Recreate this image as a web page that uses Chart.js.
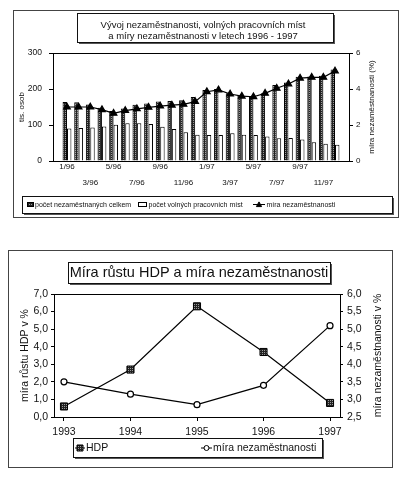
<!DOCTYPE html>
<html>
<head>
<meta charset="utf-8">
<script src="https://cdn.jsdelivr.net/npm/chart.js@4.4.0/dist/chart.umd.min.js"></script>
<style>
  body { margin: 0; background: #fff; width: 399px; height: 478px; overflow: hidden; position: relative; }
  .frame { position: absolute; border: 1px solid #444; box-sizing: border-box; }
  #f1 { left: 13px; top: 10px; width: 386px; height: 208px; }
  #f2 { left: 8px; top: 250px; width: 385px; height: 218px; }
  canvas { display: block; }
</style>
</head>
<body>
<div class="frame" id="f1"><canvas id="c1" width="384" height="206"></canvas></div>
<div class="frame" id="f2"><canvas id="c2" width="383" height="216"></canvas></div>
<script>
// --- data, upper chart (thousands of persons, %)
const months = ['1/96','2/96','3/96','4/96','5/96','6/96','7/96','8/96','9/96','10/96','11/96','12/96',
                '1/97','2/97','3/97','4/97','5/97','6/97','7/97','8/97','9/97','10/97','11/97','12/97'];
const unemployed = [164,163,157,148,139,146,156,160,165,167,169,178,197,200,188,181,180,188,211,218,234,235,237,254];
const vacancies = [90,92,93,96,101,105,105,103,95,89,80,73,72,72,77,73,72,68,63,64,60,52,48,45];
const rate = [3.0,3.0,3.0,2.85,2.65,2.8,2.9,2.98,3.05,3.1,3.15,3.3,3.85,3.95,3.72,3.6,3.57,3.76,4.04,4.28,4.6,4.65,4.65,5.0];

// --- data, lower chart
const years = [1993, 1994, 1995, 1996, 1997];
const gdp = [0.6, 2.7, 6.3, 3.7, 0.8];
const unempRate = [3.5, 3.15, 2.85, 3.4, 5.1];

const FONT = "'Liberation Sans', Arial, sans-serif";
Chart.defaults.font.family = FONT;
Chart.defaults.color = '#111';

// dark dithered fill like the scanned bars
function stipple(ctx) {
  const c = document.createElement('canvas');
  c.width = 2; c.height = 2;
  const g = c.getContext('2d');
  g.fillStyle = '#222'; g.fillRect(0, 0, 2, 2);
  g.fillStyle = '#9a9a9a'; g.fillRect(1, 1, 1, 1);
  return ctx.createPattern(c, 'repeat');
}

function shadowBox(c, b) {
  c.fillStyle = '#555';
  c.fillRect(b[0] + 2, b[1] + 2, b[2], b[3]);
  c.fillStyle = '#fff';
  c.fillRect(b[0], b[1], b[2], b[3]);
  c.strokeStyle = '#111'; c.lineWidth = 1;
  c.strokeRect(b[0] + 0.5, b[1] + 0.5, b[2], b[3]);
}

function marker(c, style, x, y, r, fill) {
  c.beginPath();
  if (style === 'triangle') {
    c.moveTo(x, y - r); c.lineTo(x + r, y + r * 0.8); c.lineTo(x - r, y + r * 0.8); c.closePath();
  } else if (style === 'rect') {
    c.rect(x - r, y - r, 2 * r, 2 * r);
  } else {
    c.arc(x, y, r, 0, Math.PI * 2);
  }
  c.fillStyle = fill; c.fill();
  c.strokeStyle = '#000'; c.lineWidth = 1; c.stroke();
}

const decor = {
  id: 'decor',
  afterDraw(chart, args, o) {
    const c = chart.ctx, a = chart.chartArea;
    c.save();
    // plot frame
    c.strokeStyle = '#000'; c.lineWidth = 1;
    c.strokeRect(Math.round(a.left) + 0.5, Math.round(a.top) + 0.5, Math.round(a.width), Math.round(a.height));
    // title box
    shadowBox(c, o.titleBox);
    c.fillStyle = '#111'; c.font = o.titleFont;
    c.textAlign = 'center'; c.textBaseline = 'middle';
    o.title.forEach((t, i) => c.fillText(t, o.titleX, o.titleY[i]));
    // right axis title, reading upward
    c.save();
    c.translate(o.rightTitle.x, (a.top + a.bottom) / 2);
    c.rotate(-Math.PI / 2);
    c.font = o.rightTitle.font;
    c.fillText(o.rightTitle.text, 0, 0);
    c.restore();
    // legend
    shadowBox(c, o.legendBox);
    const y = o.legendY;
    chart.data.datasets.forEach((ds, i) => {
      const it = o.legendItems[i];
      if ((ds.type || chart.config.type) === 'bar') {
        c.fillStyle = ds.backgroundColor;
        c.fillRect(it.x, y - it.h / 2, it.w, it.h);
        c.strokeStyle = '#000';
        c.strokeRect(it.x + 0.5, y - it.h / 2 + 0.5, it.w - 1, it.h - 1);
      } else {
        c.strokeStyle = '#000'; c.lineWidth = 1;
        c.beginPath(); c.moveTo(it.x, y); c.lineTo(it.x + it.w, y); c.stroke();
        marker(c, ds.pointStyle, it.x + it.w / 2, y, it.r, ds.pointBackgroundColor);
      }
      c.fillStyle = '#111'; c.font = o.legendFont;
      c.textAlign = 'left'; c.textBaseline = 'middle';
      c.fillText(ds.label, it.text, y + 0.5);
    });
    c.restore();
  }
};

// ---------- upper chart
const ctx1 = document.getElementById('c1').getContext('2d');
const dark1 = stipple(ctx1);

new Chart(ctx1, {
  type: 'bar',
  data: {
    datasets: [
      { label: 'počet nezaměstnaných celkem', data: unemployed.map((v, i) => ({ x: i, y: v })),
        backgroundColor: dark1, borderColor: '#000', borderWidth: 1, yAxisID: 'y', order: 2 },
      { label: 'počet volných pracovních míst', data: vacancies.map((v, i) => ({ x: i, y: v })),
        backgroundColor: '#fff', borderColor: '#000', borderWidth: 1, yAxisID: 'y', order: 2 },
      { type: 'line', label: 'míra nezaměstnanosti', data: rate.map((v, i) => ({ x: i, y: v })),
        yAxisID: 'y1', borderColor: '#000', borderWidth: 1.2, tension: 0,
        pointStyle: 'triangle', pointRadius: 3.8, pointBackgroundColor: '#000', pointBorderColor: '#000', order: 1 }
    ]
  },
  options: {
    responsive: false,
    animation: false,
    categoryPercentage: 0.76,
    barPercentage: 1,
    layout: { padding: { top: 42, left: 0, right: 0, bottom: 0 } },
    plugins: {
      legend: { display: false },
      tooltip: { enabled: false },
      decor: {
        title: ['Vývoj nezaměstnanosti, volných pracovních míst', 'a míry nezaměstnanosti v letech 1996 - 1997'],
        titleFont: '9.5px ' + FONT, titleX: 189, titleY: [14, 25],
        titleBox: [63, 2, 256, 29],
        rightTitle: { text: 'míra nezaměstnanosti (%)', x: 358, font: '8px ' + FONT },
        legendBox: [8, 185, 370, 17], legendY: 193.5, legendFont: '7px ' + FONT,
        legendItems: [{ x: 13, w: 7, h: 5, text: 21 }, { x: 124, w: 9, h: 5, text: 134.5 }, { x: 239, w: 12, r: 2.6, text: 252.5 }]
      }
    },
    scales: {
      x: {
        type: 'linear', min: -1.2, max: 24.2, offset: false,
        grid: { display: false, drawTicks: false, offset: false },
        border: { display: true, color: '#000' },
        afterBuildTicks: s => { s.ticks = months.map((m, i) => ({ value: i })).filter(t => t.value % 2 === 0); },
        afterFit: s => { s.height = 56; },
        ticks: {
          autoSkip: false, maxRotation: 0, padding: 2, color: '#111',
          font: { size: 8, lineHeight: 1 },
          callback: v => (v % 4 === 0) ? [months[v]] : ['', '', months[v]]
        }
      },
      y: {
        position: 'left', min: 0, max: 300,
        ticks: { stepSize: 100, padding: 7, font: { size: 8.5 } },
        grid: { drawOnChartArea: false, tickLength: 4, color: '#000' },
        border: { color: '#000' },
        title: { display: true, text: 'tis. osob', font: { size: 8 }, padding: { top: 3, bottom: 0 } },
        afterFit: s => { s.width = 39; }
      },
      y1: {
        position: 'right', min: 0, max: 6,
        ticks: { stepSize: 2, padding: 3, font: { size: 8 } },
        grid: { drawOnChartArea: false, tickLength: 4, color: '#000' },
        border: { color: '#000' },
        afterFit: s => { s.width = 49; }
      }
    }
  },
  plugins: [decor]
});

// ---------- lower chart
const ctx2 = document.getElementById('c2').getContext('2d');
const dark2 = stipple(ctx2);
const comma = v => v.toFixed(1).replace('.', ',');

new Chart(ctx2, {
  type: 'line',
  data: {
    datasets: [
      { label: 'HDP', data: years.map((y, i) => ({ x: y, y: gdp[i] })), yAxisID: 'y',
        borderColor: '#000', borderWidth: 1.2, tension: 0,
        pointStyle: 'rect', pointRadius: 5, pointBackgroundColor: dark2, pointBorderColor: '#000', pointBorderWidth: 1 },
      { label: 'míra nezaměstnanosti', data: years.map((y, i) => ({ x: y, y: unempRate[i] })), yAxisID: 'y1',
        borderColor: '#000', borderWidth: 1.2, tension: 0,
        pointStyle: 'circle', pointRadius: 3, pointBackgroundColor: '#fff', pointBorderColor: '#000', pointBorderWidth: 1.2 }
    ]
  },
  options: {
    responsive: false,
    animation: false,
    layout: { padding: { top: 43, left: 0, right: 0, bottom: 0 } },
    plugins: {
      legend: { display: false },
      tooltip: { enabled: false },
      decor: {
        title: ['Míra růstu HDP a míra nezaměstnanosti'],
        titleFont: '14.5px ' + FONT, titleX: 190, titleY: [21.5],
        titleBox: [59, 11, 262, 21],
        rightTitle: { text: 'míra nezaměstnanosti v %', x: 369, font: '10.5px ' + FONT },
        legendBox: [64, 187, 249, 19], legendY: 197, legendFont: '10.5px ' + FONT,
        legendItems: [{ x: 66, w: 10, r: 3, text: 77 }, { x: 192, w: 11, r: 2.5, text: 204 }]
      }
    },
    scales: {
      x: {
        type: 'linear', min: 1992.85, max: 1997.15,
        afterBuildTicks: s => { s.ticks = years.map(v => ({ value: v })); },
        afterFit: s => { s.height = 50; },
        ticks: { autoSkip: false, maxRotation: 0, padding: 4.5, font: { size: 10.5 }, callback: v => String(v) },
        grid: { drawOnChartArea: false, tickLength: 4, color: '#000' },
        border: { color: '#000' }
      },
      y: {
        position: 'left', min: 0, max: 7,
        ticks: { stepSize: 1, padding: 3, font: { size: 10.5 }, callback: comma },
        grid: { drawOnChartArea: false, tickLength: 3, color: '#000' },
        border: { color: '#000' },
        title: { display: true, text: 'míra růstu HDP v %', font: { size: 10.5 }, padding: { top: 10, bottom: 0 } },
        afterFit: s => { s.width = 45; }
      },
      y1: {
        position: 'right', min: 2.5, max: 6,
        ticks: { stepSize: 0.5, padding: 4, font: { size: 10.5 }, callback: comma },
        grid: { drawOnChartArea: false, tickLength: 3, color: '#000' },
        border: { color: '#000' },
        afterFit: s => { s.width = 52; }
      }
    }
  },
  plugins: [decor]
});
</script>
</body>
</html>
